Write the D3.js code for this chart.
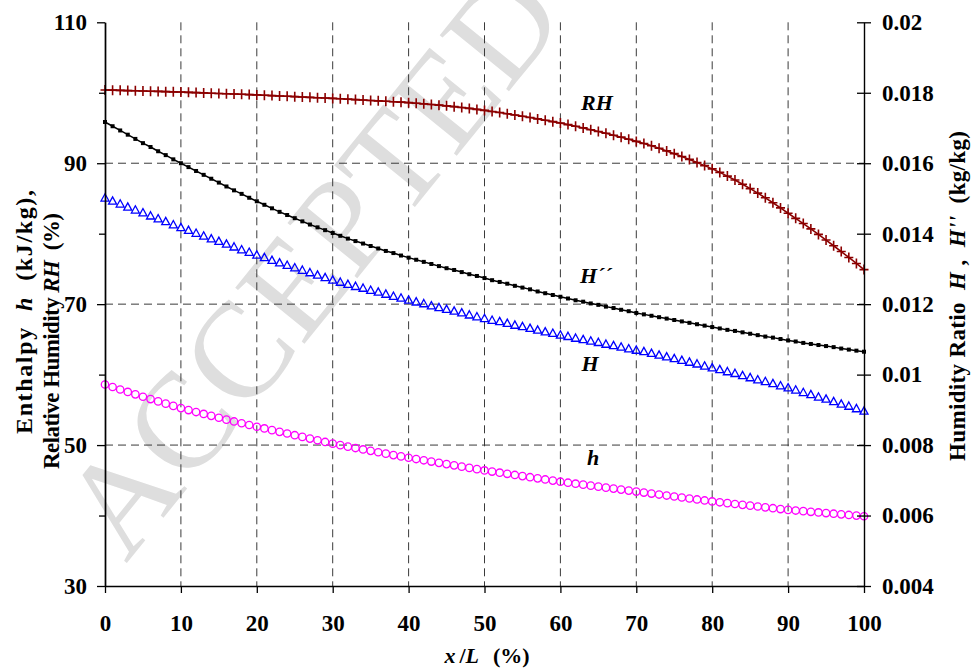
<!DOCTYPE html>
<html><head><meta charset="utf-8">
<script src="https://cdn.jsdelivr.net/npm/d3@7"></script>
<style>
body{margin:0;background:#fff}
svg{display:block}
text{font-family:"Liberation Serif","Times New Roman",serif}
</style>
</head><body><svg id="c" width="976" height="669"></svg>
<script>
const xPct = [0,1,2,3,4,5,6,7,8,9,10,11,12,13,14,15,16,17,18,19,20,21,22,23,24,25,26,27,28,29,30,31,32,33,34,35,36,37,38,39,40,41,42,43,44,45,46,47,48,49,50,51,52,53,54,55,56,57,58,59,60,61,62,63,64,65,66,67,68,69,70,71,72,73,74,75,76,77,78,79,80,81,82,83,84,85,86,87,88,89,90,91,92,93,94,95,96,97,98,99,100];

const rhValues = [100.40,100.37,100.34,100.31,100.28,100.25,100.22,100.19,100.16,100.13,
100.10,100.06,100.02,99.98,99.94,99.90,99.86,99.82,99.78,99.74,
99.70,99.65,99.60,99.55,99.50,99.45,99.40,99.35,99.30,99.25,
99.20,99.15,99.09,99.03,98.97,98.91,98.85,98.79,98.73,98.67,
98.60,98.52,98.43,98.34,98.24,98.14,98.03,97.91,97.78,97.64,
97.50,97.35,97.19,97.02,96.85,96.67,96.48,96.29,96.10,95.90,
95.70,95.48,95.25,95.01,94.76,94.51,94.25,93.98,93.70,93.41,
93.10,92.80,92.47,92.12,91.75,91.36,90.96,90.54,90.11,89.66,
89.20,88.70,88.17,87.61,87.02,86.40,85.76,85.09,84.39,83.66,
82.90,82.18,81.44,80.68,79.90,79.10,78.29,77.47,76.63,75.77,74.90];

const hppValues = [0.01717,0.01705,0.01693,0.01681,0.01669,0.01657,0.01646,0.01634,0.01623,0.01611,
0.01600,0.01589,0.01578,0.01567,0.01556,0.01545,0.01534,0.01523,0.01513,0.01502,
0.01492,0.01482,0.01472,0.01462,0.01453,0.01444,0.01435,0.01426,0.01418,0.01410,
0.01402,0.01394,0.01386,0.01379,0.01372,0.01365,0.01358,0.01351,0.01345,0.01338,
0.01332,0.01326,0.01320,0.01314,0.01308,0.01302,0.01297,0.01291,0.01285,0.01280,
0.01274,0.01268,0.01263,0.01258,0.01252,0.01247,0.01242,0.01236,0.01231,0.01226,
0.01221,0.01216,0.01211,0.01207,0.01202,0.01198,0.01193,0.01189,0.01184,0.01180,
0.01175,0.01171,0.01167,0.01163,0.01159,0.01155,0.01151,0.01147,0.01143,0.01139,
0.01135,0.01131,0.01127,0.01124,0.01120,0.01116,0.01112,0.01108,0.01105,0.01101,
0.01097,0.01094,0.01090,0.01087,0.01084,0.01081,0.01078,0.01074,0.01071,0.01068,0.01065];

const hRatioValues = [0.01502,0.01493,0.01485,0.01476,0.01468,0.01460,0.01451,0.01443,0.01435,0.01426,
0.01418,0.01410,0.01402,0.01394,0.01386,0.01379,0.01371,0.01363,0.01355,0.01348,
0.01340,0.01333,0.01325,0.01318,0.01311,0.01304,0.01297,0.01290,0.01283,0.01276,
0.01269,0.01263,0.01257,0.01251,0.01246,0.01240,0.01235,0.01229,0.01223,0.01218,
0.01212,0.01207,0.01202,0.01196,0.01191,0.01186,0.01181,0.01176,0.01170,0.01165,
0.01160,0.01155,0.01151,0.01146,0.01141,0.01137,0.01132,0.01127,0.01122,0.01118,
0.01113,0.01109,0.01104,0.01100,0.01096,0.01092,0.01087,0.01083,0.01079,0.01074,
0.01070,0.01066,0.01061,0.01056,0.01051,0.01046,0.01041,0.01036,0.01031,0.01025,
0.01020,0.01015,0.01009,0.01004,0.00998,0.00992,0.00986,0.00981,0.00975,0.00969,
0.00963,0.00957,0.00950,0.00944,0.00937,0.00931,0.00924,0.00917,0.00911,0.00904,0.00897];

const enthalpyValues = [58.60,58.24,57.89,57.54,57.20,56.86,56.53,56.20,55.88,55.56,
55.25,54.97,54.69,54.42,54.15,53.88,53.61,53.35,53.10,52.85,
52.60,52.36,52.12,51.88,51.64,51.40,51.16,50.92,50.68,50.44,
50.20,49.99,49.78,49.58,49.38,49.18,48.98,48.78,48.58,48.39,
48.20,48.02,47.84,47.66,47.48,47.30,47.12,46.94,46.76,46.58,
46.40,46.24,46.08,45.92,45.76,45.60,45.44,45.28,45.12,44.96,
44.80,44.66,44.52,44.38,44.24,44.10,43.96,43.82,43.68,43.54,
43.40,43.26,43.12,42.98,42.84,42.70,42.56,42.42,42.28,42.14,
42.00,41.88,41.76,41.64,41.52,41.40,41.28,41.16,41.04,40.92,
40.80,40.71,40.62,40.53,40.44,40.35,40.26,40.17,40.08,39.99,39.90];

const xTicks = [0,10,20,30,40,50,60,70,80,90,100];
const xGridTicks = [10,20,30,40,50,60,70,80,90];
const leftTicks = [30,50,70,90,110];
const leftMinorTicks = [40,60,80,100];
const leftGridTicks = [50,70,90];
const rightTicks = [0.004,0.006,0.008,0.010,0.012,0.014,0.016,0.018,0.020];
const rightTickLabels = ["0.004","0.006","0.008","0.01","0.012","0.014","0.016","0.018","0.02"];

const svg = d3.select("#c");
const x = d3.scaleLinear().domain([0,100]).range([105,864]);
const yL = d3.scaleLinear().domain([30,110]).range([586,22.3]);
const yR = d3.scaleLinear().domain([0.004,0.020]).range([586,22.3]);

// watermark
svg.append("text").text("ACCEPTED")
  .attr("transform","translate(126,564) rotate(-51)")
  .style("font-size","136px").style("font-weight","normal")
  .attr("fill","#dedede");

// grid
const grid = svg.append("g").attr("stroke","#3a3a3a").attr("stroke-width",1).attr("stroke-dasharray","8,5");
grid.selectAll("line.v").data(xGridTicks).join("line").attr("class","v")
  .attr("x1",d=>x(d)).attr("x2",d=>x(d)).attr("y1",yL(110)).attr("y2",yL(30));
grid.selectAll("line.h").data(leftGridTicks).join("line").attr("class","h")
  .attr("x1",x(0)).attr("x2",x(100)).attr("y1",d=>yL(d)).attr("y2",d=>yL(d));

// series: RH
const rhColor = "#8b0000";
svg.append("path").datum(xPct.map((p,i)=>[p,rhValues[i]]))
  .attr("fill","none").attr("stroke",rhColor).attr("stroke-width",1.6)
  .attr("d", d3.line().x(d=>x(d[0])).y(d=>yL(d[1])));
svg.append("g").selectAll("path").data(xPct.map((p,i)=>[p,rhValues[i]])).join("path")
  .attr("transform",d=>`translate(${x(d[0])},${yL(d[1])})`)
  .attr("d","M-4.5,0H4.5M0,-5V5").attr("stroke",rhColor).attr("stroke-width",1.6).attr("fill","none");

// H''
svg.append("path").datum(xPct.map((p,i)=>[p,hppValues[i]]))
  .attr("fill","none").attr("stroke","#000").attr("stroke-width",1.5)
  .attr("d", d3.line().x(d=>x(d[0])).y(d=>yR(d[1])));
svg.append("g").selectAll("rect").data(xPct.map((p,i)=>[p,hppValues[i]])).join("rect")
  .attr("x",d=>x(d[0])-2).attr("y",d=>yR(d[1])-2).attr("width",4).attr("height",4).attr("fill","#000");

// H
svg.append("g").selectAll("path").data(xPct.map((p,i)=>[p,hRatioValues[i]])).join("path")
  .attr("transform",d=>`translate(${x(d[0])},${yR(d[1])})`)
  .attr("d","M0,-4L4,3.3H-4Z").attr("stroke","#0000ff").attr("stroke-width",1.3).attr("fill","none");

// h
svg.append("g").selectAll("circle").data(xPct.map((p,i)=>[p,enthalpyValues[i]])).join("circle")
  .attr("cx",d=>x(d[0])).attr("cy",d=>yL(d[1])).attr("r",3.7)
  .attr("stroke","#ff00ff").attr("stroke-width",1.3).attr("fill","none");

// axes
function styleAxis(g){
  g.attr("font-size",23).attr("font-family","'Liberation Serif','Times New Roman',serif").attr("font-weight","bold");
  g.selectAll("path.domain").attr("stroke","#000").attr("stroke-width",1.4);
  g.selectAll(".tick line").attr("stroke","#000").attr("stroke-width",1.3);
  g.selectAll("text").attr("fill","#000");
}
svg.append("g").attr("transform",`translate(${x(0)},0)`)
  .call(d3.axisLeft(yL).tickValues(leftMinorTicks).tickSize(6).tickSizeOuter(0).tickFormat(""))
  .call(styleAxis);
svg.append("g").attr("transform",`translate(${x(0)},0)`)
  .call(d3.axisLeft(yL).tickValues(leftTicks).tickSize(8).tickPadding(10).tickSizeOuter(0).tickFormat(d3.format("d")))
  .call(styleAxis);
svg.append("g").attr("transform",`translate(0,${yL(30)})`)
  .call(d3.axisBottom(x).tickValues(xTicks).tickSize(7).tickPadding(22).tickSizeOuter(0).tickFormat(d3.format("d")))
  .call(styleAxis);
const rAx = svg.append("g").attr("transform",`translate(${x(100)},0)`)
  .call(d3.axisRight(yR).tickValues(rightTicks).tickSize(7).tickPadding(11).tickSizeOuter(0)
    .tickFormat((d,i)=>rightTickLabels[i]))
  .call(styleAxis);
rAx.selectAll(".tick line").attr("x1",-7);

// series labels
const lab = svg.append("g").attr("font-size",22).attr("font-weight","bold").attr("font-style","italic").attr("fill","#000");
lab.append("text").attr("x",597).attr("y",110).attr("text-anchor","middle").text("RH");
lab.append("text").attr("x",580).attr("y",283).text("H\u00B4\u00B4");
lab.append("text").attr("x",590).attr("y",371).attr("text-anchor","middle").text("H");
lab.append("text").attr("x",593).attr("y",465).attr("text-anchor","middle").text("h");

// axis titles
const titles = svg.append("g").attr("font-weight","bold").attr("fill","#000");
const t1 = titles.append("text").attr("text-anchor","middle").attr("font-size",24)
  .attr("textLength",244).attr("lengthAdjust","spacing")
  .attr("transform","translate(32,312) rotate(-90)");
t1.append("tspan").text("Enthalpy\u00A0 ");
t1.append("tspan").attr("font-style","italic").text("h");
t1.append("tspan").text("\u00A0 (kJ/kg),");
const t2 = titles.append("text").attr("text-anchor","middle").attr("font-size",23)
  .attr("textLength",256).attr("lengthAdjust","spacing")
  .attr("transform","translate(59,341) rotate(-90)");
t2.append("tspan").text("Relative Humidity ");
t2.append("tspan").attr("font-style","italic").text("RH");
t2.append("tspan").text("\u00A0 (%)");

const t3 = titles.append("text").attr("text-anchor","middle").attr("font-size",23)
  .attr("textLength",330).attr("lengthAdjust","spacing")
  .attr("transform","translate(965,296) rotate(-90)");
t3.append("tspan").text("Humidity Ratio\u00A0 ");
t3.append("tspan").attr("font-style","italic").text("H");
t3.append("tspan").text(" ,\u00A0 ");
t3.append("tspan").attr("font-style","italic").text("H''");
t3.append("tspan").text("\u00A0 (kg/kg)");

const t4 = titles.append("text").attr("text-anchor","middle").attr("font-size",22)
  .attr("x",487).attr("y",663);
t4.append("tspan").attr("font-style","italic").text("x");
t4.append("tspan").attr("dx",4).text("/");
t4.append("tspan").attr("font-style","italic").text("L");
t4.append("tspan").attr("dx",14).text("(%)");
</script>
</body></html>
